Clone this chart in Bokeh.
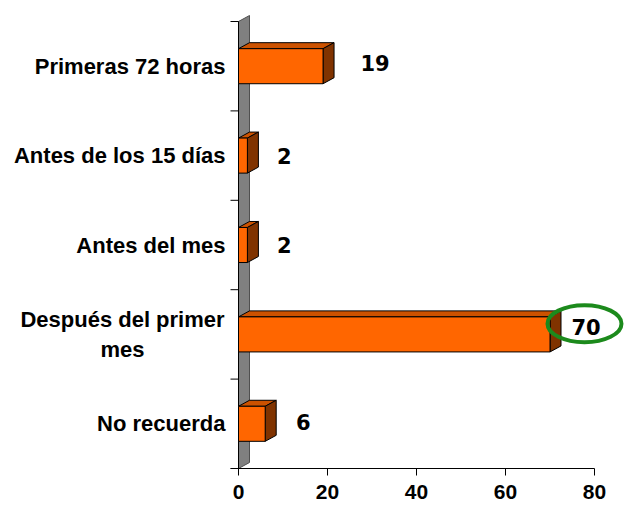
from bokeh.plotting import figure
from bokeh.models import Range1d, FixedTicker, ColumnDataSource
from bokeh.core.properties import value
from bokeh.embed import file_html
from bokeh.resources import INLINE

# Survey answers, listed top to bottom
categories = ["Primeras 72 horas", "Antes de los 15 días", "Antes del mes",
              "Después del primer mes", "No recuerda"]
counts = [19, 2, 2, 70, 6]
x_ticks = [0, 20, 40, 60, 80]

# --- geometry of the pseudo-3D drawing -------------------------------------
PX_X = 4.45              # screen pixels per x unit
PX_Y = 89.4              # screen pixels per category band
DX = 11 / PX_X           # depth offset of the 3D faces (x units)
DY = 6 / PX_Y            # depth offset of the 3D faces (y units)
HALF = 0.196             # half bar thickness (band units)
FRAME_W, FRAME_H = 626, 468
X0 = -238 / PX_X
X1 = X0 + FRAME_W / PX_X
Y1 = FRAME_H / PX_Y

n = len(categories)
centers = [n - i - 0.5 for i in range(n)]

p = figure(width=626, height=506, x_range=Range1d(X0, X1), y_range=Range1d(0, Y1),
           output_backend="svg", toolbar_location=None, y_axis_location=None,
           min_border_left=0, min_border_right=0, min_border_top=0, min_border_bottom=38)
p.background_fill_color = "white"
p.border_fill_color = "white"
p.outline_line_color = None
p.xgrid.visible = False
p.ygrid.visible = False

# grey back wall behind the bars
p.patch(x=[0, 0, DX, DX], y=[0, n, n + DY, DY], fill_color="#808080",
        line_color="#505050", line_width=1)
p.segment(x0=[0], y0=[0], x1=[0], y1=[n], line_color="black", line_width=1)

# category separator ticks on the left
bounds = list(range(n + 1))
p.segment(x0=[-8 / PX_X] * len(bounds), y0=bounds, x1=[0] * len(bounds), y1=bounds,
          line_color="black", line_width=1)

# bars: top face, side face, front face
top_xs, top_ys, side_xs, side_ys = [], [], [], []
for c, v in zip(centers, counts):
    t, b = c + HALF, c - HALF
    top_xs.append([0, v, v + DX, DX])
    top_ys.append([t, t, t + DY, t + DY])
    side_xs.append([v, v, v + DX, v + DX])
    side_ys.append([b, t, t + DY, b + DY])

p.patches(xs=top_xs, ys=top_ys, fill_color="#CC5200", line_color="black", line_width=1)
p.patches(xs=side_xs, ys=side_ys, fill_color="#803300", line_color="black", line_width=1)
p.quad(left=[0] * n, right=counts, bottom=[c - HALF for c in centers],
       top=[c + HALF for c in centers], fill_color="#FF6600", line_color="black", line_width=1)

# category labels
single = [(c, name) for c, name in zip(centers, categories) if name != "Después del primer mes"]
p.text(x=[0] * len(single), y=[s[0] for s in single], text=[s[1] for s in single],
       x_offset=-13, text_align="right", text_baseline="middle",
       text_font=value("Liberation Sans"), text_font_style="bold",
       text_font_size="22px", text_color="black")
wrap_idx = categories.index("Después del primer mes")
p.text(x=[0], y=[centers[wrap_idx]], text=["Después del primer\nmes"],
       x_offset=-116, text_align="center", text_baseline="middle",
       text_line_height=1.2,
       text_font=value("Liberation Sans"), text_font_style="bold",
       text_font_size="22px", text_color="black")

# highlight ring around the largest answer
top = max(counts)
ti = counts.index(top)
p.ellipse(x=[top + 7.75], y=[centers[ti] + 0.12], width=74, height=37,
          width_units="screen", height_units="screen",
          fill_color=None, line_color="#1C8A1C", line_width=4)

# value labels (screen offsets; negative dy moves up)
label_shift = [52, 37, 37, 36, 38]
label_lift = [-3, 0, 0, -7, -2]
src = ColumnDataSource(dict(x=counts, y=centers, t=[str(v) for v in counts],
                            dx=label_shift, dy=label_lift))
p.text(x="x", y="y", text="t", x_offset="dx", y_offset="dy", source=src,
       text_align="center", text_baseline="middle",
       text_font=value("DejaVu Sans"), text_font_style="bold",
       text_font_size="21px", text_color="black")

# x axis
ax = p.xaxis[0]
ax.ticker = FixedTicker(ticks=x_ticks)
ax.bounds = (-8 / PX_X, 80)
ax.axis_line_color = "black"
ax.axis_line_width = 1
ax.major_tick_out = 7
ax.major_tick_in = 0
ax.minor_tick_line_color = None
ax.major_label_standoff = 9
ax.major_label_text_font = "Liberation Sans"
ax.major_label_text_font_style = "bold"
ax.major_label_text_font_size = "21px"
ax.major_label_text_color = "black"

open("out.html", "w").write(file_html(p, INLINE))
